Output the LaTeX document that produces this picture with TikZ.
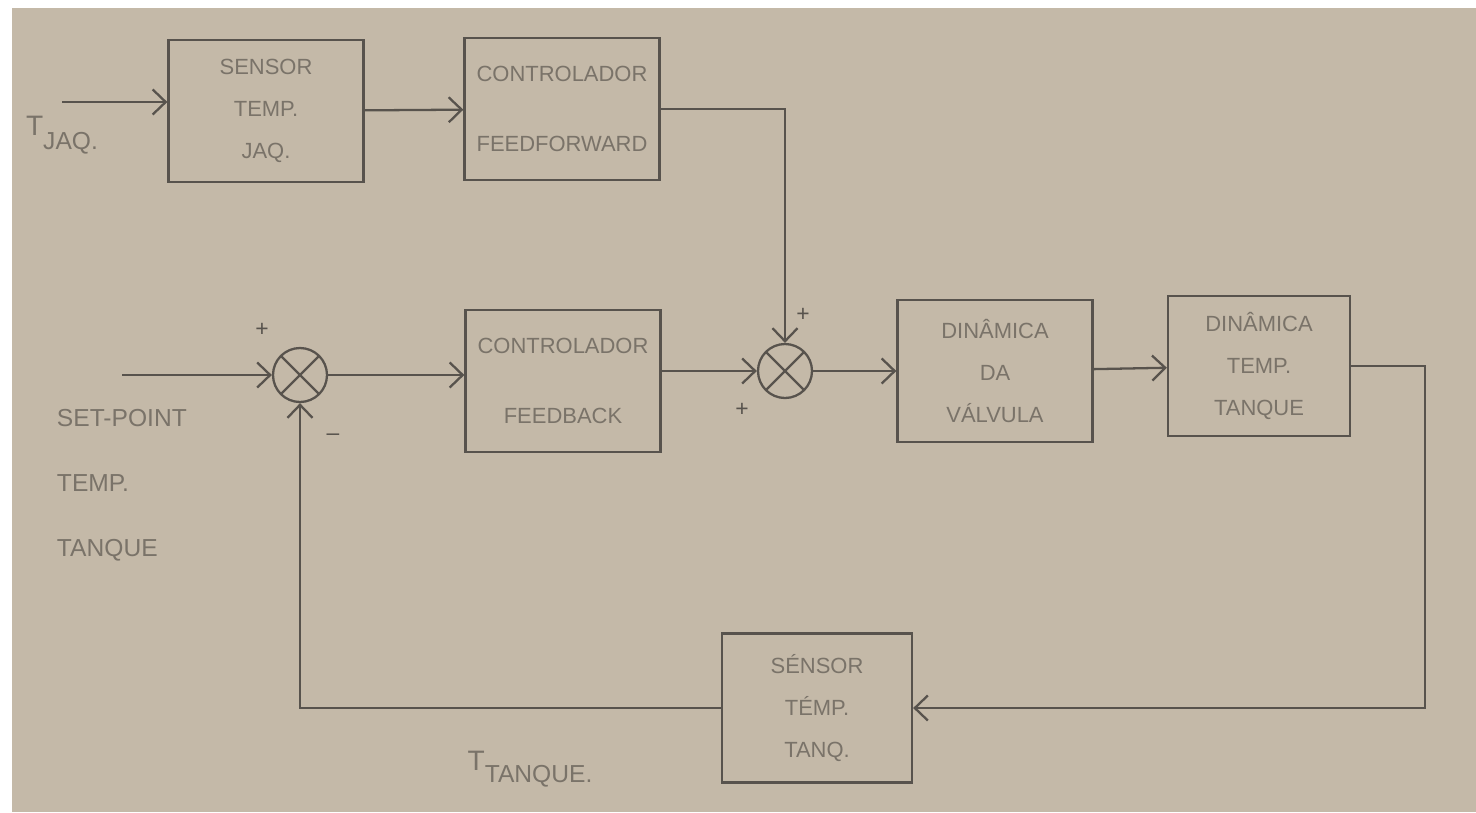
\documentclass[tikz,border=0pt]{standalone}
\usepackage{fontspec}
\setmainfont{Liberation Sans}
\usetikzlibrary{positioning,calc,arrows.meta}

\definecolor{paper}{RGB}{196,185,168}
\definecolor{pencil}{RGB}{88,83,77}
\definecolor{lead}{RGB}{122,115,105}

\begin{document}
\begin{tikzpicture}[->, >={Straight Barb[length=2.6mm,width=5mm]}, color=pencil, line width=1.3pt, every edge/.append style={line width=1.3pt}, block/.style={rectangle, draw, minimum width=3.9cm, minimum height=2.85cm, align=center, text=lead, font=\fontsize{12.5}{24}\selectfont}, sum/.style={circle, draw, minimum size=1.08cm, inner sep=0pt, path picture={\draw[-] (path picture bounding box.north west) -- (path picture bounding box.south east) (path picture bounding box.north east) -- (path picture bounding box.south west);}}, sign/.style={text=pencil, font=\fontsize{13}{13}\selectfont}, lbl/.style={text=lead, font=\fontsize{14}{37}\selectfont, align=left}]

% paper
\fill[-, white] (0,0) rectangle (29.52,-16.24);
\fill[-, paper] (0.24,-0.16) rectangle (29.52,-16.24);

\node[block] (sensJ) at (5.32,-2.22) {SENSOR\\TEMP.\\JAQ.};
\node[block] (ctrlFF) at (11.24,-2.18) {CONTROLADOR\\[16pt]FEEDFORWARD};
\node[block] (ctrlFB) at (11.26,-7.62) {CONTROLADOR\\[16pt]FEEDBACK};
\node[sum] (sum1) at (6.0,-7.5) {};
\node[sum] (sum2) at (15.7,-7.42) {};
\node[block] (valv) at (19.9,-7.42) {DINÂMICA\\DA\\VÁLVULA};
\node[block, minimum width=3.64cm, minimum height=2.8cm] (tanq) at (25.18,-7.32) {DINÂMICA\\TEMP.\\TANQUE};
\node[block, minimum width=3.8cm, minimum height=2.98cm] (sensT) at (16.34,-14.16) {SÉNSOR\\TÉMP.\\TANQ.};

\node[lbl] (tjaq) at (1.24,-2.7) {{\fontsize{16}{16}\selectfont T}\raisebox{-1.1ex}{JAQ.}};
\node[lbl, anchor=north west] (setp) at (1.0,-8.05) {SET-POINT\\TEMP.\\TANQUE};
\node[lbl] (ttanq) at (10.6,-15.38) {{\fontsize{16}{16}\selectfont T}\raisebox{-0.9ex}{TANQUE.}};

\node[sign] (p1) at (5.24,-6.6) {+};
\node[sign] (m1) at (6.66,-8.74) {\textendash};
\node[sign] (p2) at (16.06,-6.3) {+};
\node[sign] (p3) at (14.84,-8.2) {+};

\coordinate (inJ) at (1.24,-2.04);
\coordinate (inSP) at (2.44,-7.5);
\coordinate (rt) at (28.5,-7.32);

\path
    (inJ) edge (inJ -| sensJ.west)
    (sensJ) edge (ctrlFF)
    (inSP) edge (sum1)
    (sum1) edge (sum1 -| ctrlFB.west)
    (ctrlFB.east |- sum2) edge (sum2)
    (sum2) edge (valv)
    (valv) edge (tanq);

\draw (ctrlFF) -| (sum2);
\draw (tanq) -- (rt) |- (sensT);
\draw (sensT) -| (sum1);
\end{tikzpicture}
\end{document}
